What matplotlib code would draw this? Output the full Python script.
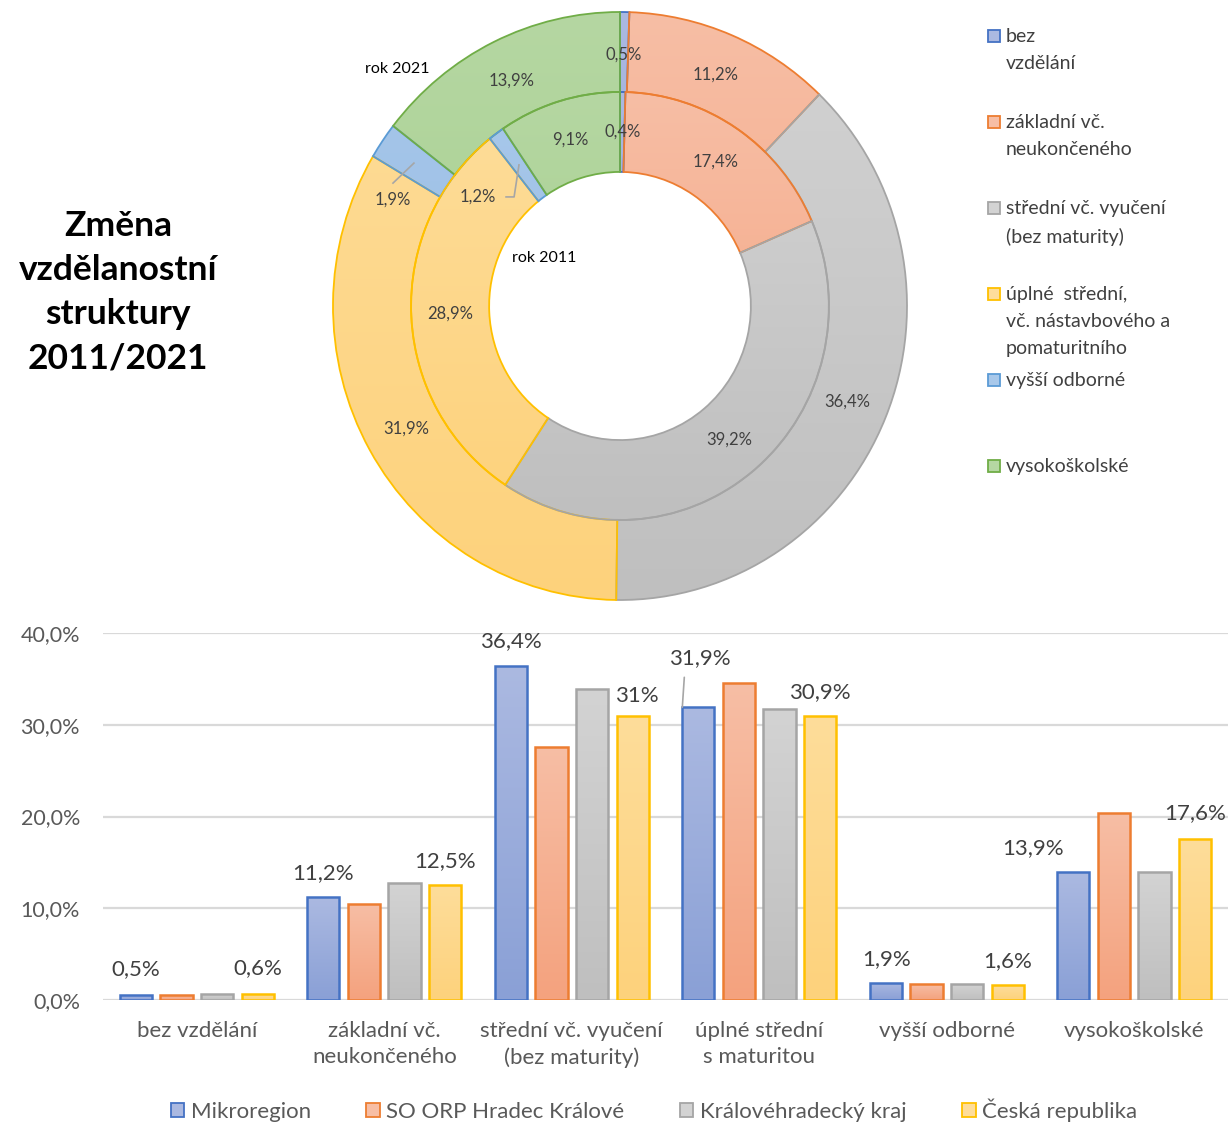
import numpy as np
import matplotlib
matplotlib.use("Agg")
import matplotlib.pyplot as plt
from matplotlib.colors import to_rgb
from matplotlib.patches import Rectangle

plt.rcParams['font.family'] = ['Lato', 'DejaVu Sans']

# ---------------- data ----------------
edu_categories = ["bez vzdělání", "základní vč. neukončeného", "střední vč. vyučení (bez maturity)",
                  "úplné střední, vč. nástavbového a pomaturitního", "vyšší odborné", "vysokoškolské"]
donut_legend_labels = ["bez\nvzdělání", "základní vč.\nneukončeného", "střední vč. vyučení\n(bez maturity)",
                       "úplné  střední,\nvč. nástavbového a\npomaturitního", "vyšší odborné", "vysokoškolské"]
share_2021 = [0.5, 11.2, 36.4, 31.9, 1.9, 13.9]
share_2011 = [0.4, 17.4, 39.2, 28.9, 1.2, 9.1]

bar_categories = ["bez vzdělání", "základní vč.\nneukončeného", "střední vč. vyučení\n(bez maturity)",
                  "úplné střední\ns maturitou", "vyšší odborné", "vysokoškolské"]
series_names = ["Mikroregion", "SO ORP Hradec Králové", "Královéhradecký kraj", "Česká republika"]
mikroregion = [0.5, 11.2, 36.4, 31.9, 1.9, 13.9]
so_orp_hk = [0.5, 10.5, 27.6, 34.5, 1.7, 20.4]
khk_kraj = [0.6, 12.7, 33.9, 31.7, 1.7, 13.9]
cesko = [0.6, 12.5, 31.0, 30.9, 1.6, 17.6]
mikro_labels = ["0,5%", "11,2%", "36,4%", "31,9%", "1,9%", "13,9%"]
cesko_labels = ["0,6%", "12,5%", "31%", "30,9%", "1,6%", "17,6%"]
yticks = [0, 10, 20, 30, 40]
ytick_labels = ["0,0%", "10,0%", "20,0%", "30,0%", "40,0%"]

# ---------------- styles ----------------
W, H = 1230, 1122
edge_cols = ["#4472C4", "#ED7D31", "#A5A5A5", "#FFC000", "#5B9BD5", "#70AD47"]
top_cols = ["#ABB9E1", "#F7BEA5", "#D3D3D3", "#FEDD9A", "#A8C8EA", "#B5D7A2"]
bot_cols = ["#8AA0D6", "#F4A27E", "#BFBFBF", "#FDD27C", "#93B8E3", "#A2CD88"]
bar_edge = edge_cols[:4]
bar_top = top_cols[:4]
bar_bot = bot_cols[:4]
txt_dark = "#404040"
txt_axis = "#595959"

fig = plt.figure(figsize=(W / 100, H / 100), dpi=100)


def px_axes(x0, y0, x1, y1, **kw):
    return fig.add_axes([x0 / W, 1 - y1 / H, (x1 - x0) / W, (y1 - y0) / H], **kw)


def gradient(ax, patch, top, bottom, extent, z):
    n = 128
    t = np.linspace(0, 1, n)[:, None]
    img = (1 - t) * np.array(to_rgb(top)) + t * np.array(to_rgb(bottom))
    im = ax.imshow(img[:, None, :], extent=extent, aspect='auto', origin='upper',
                   interpolation='bilinear', zorder=z)
    im.set_clip_path(patch)
    return im


# ---------------- donut ----------------
cx, cy, half = 620, 306, 310
axd = px_axes(cx - half, cy - half, cx + half, cy + half)
ring_w = 0.272
outer_wedges, _ = axd.pie(share_2021, radius=1.0, startangle=90, counterclock=False,
                          wedgeprops=dict(width=ring_w, linewidth=1.3), colors=top_cols)
inner_wedges, _ = axd.pie(share_2011, radius=1.0 - ring_w, startangle=90, counterclock=False,
                          wedgeprops=dict(width=ring_w, linewidth=1.3), colors=top_cols)
for wedges, r in ((outer_wedges, 1.0), (inner_wedges, 1.0 - ring_w)):
    for k, w in enumerate(wedges):
        w.set_facecolor('none')
        w.set_edgecolor(edge_cols[k])
        w.set_zorder(3)
        gradient(axd, w, top_cols[k], bot_cols[k], [-r, r, -r, r], 2)

sx, sy = 287.0, 294.0  # px per data unit
axd.set_aspect('auto')
axd.set_xlim(-half / sx, half / sx)
axd.set_ylim(-half / sy, half / sy)
axd.axis('off')

donut_fs = 12
overrides_outer = {4: (-0.791, 0.361)}
overrides_inner = {4: (-0.495, 0.371)}
for wedges, vals, rmid, ov in ((outer_wedges, share_2021, 0.855, overrides_outer),
                                (inner_wedges, share_2011, 0.592, overrides_inner)):
    for k, w in enumerate(wedges):
        mid = np.deg2rad((w.theta1 + w.theta2) / 2)
        x, y = rmid * np.cos(mid), rmid * np.sin(mid)
        if k in ov:
            x, y = ov[k]
        lbl = f"{vals[k]:.1f}".replace(".", ",") + "%"
        axd.text(x, y, lbl, ha='center', va='center', fontsize=donut_fs, color=txt_dark, zorder=5)

# leader lines for small slices
axd.plot([-0.718, -0.791], [0.486, 0.418], color="#A6A6A6", lw=1.2, zorder=4)
axd.plot([-0.352, -0.369, -0.397], [0.480, 0.371, 0.371], color="#A6A6A6", lw=1.2, zorder=4)
axd.text((397 - cx) / sx, (cy - 69) / sy, "rok 2021", ha='center', va='center',
         fontsize=11.5, color="#000000")
axd.text((544 - cx) / sx, (cy - 258) / sy, "rok 2011", ha='center', va='center',
         fontsize=11.5, color="#000000")

# ---------------- overlay (title + donut legend) ----------------
axo = fig.add_axes([0, 0, 1, 1], zorder=-1)
axo.set_xlim(0, W)
axo.set_ylim(H, 0)
axo.axis('off')
axo.text(118, 292, "Změna\nvzdělanostní\nstruktury\n2011/2021", ha='center', va='center',
         fontsize=25.5, fontweight='bold', color="#000000", linespacing=1.47)

leg_fs = 14
for k, lab in enumerate(donut_legend_labels):
    y0 = 36 + k * 86
    axo.add_patch(Rectangle((988, y0 - 6), 12, 12, facecolor=top_cols[k], edgecolor=edge_cols[k], lw=1.3))
    axo.text(1006, y0 - 8, lab, ha='left', va='top', fontsize=leg_fs, color=txt_dark, linespacing=1.72)

# ---------------- bar chart ----------------
axb = px_axes(103, 633, 1228, 1000)
x = np.arange(len(bar_categories))
step = 0.2169
bw = 0.172
series = [mikroregion, so_orp_hk, khk_kraj, cesko]
containers = []
for j, vals in enumerate(series):
    bars = axb.bar(x + (j - 1.5) * step, vals, width=bw, facecolor='none', edgecolor=bar_edge[j],
                   linewidth=1.8, zorder=3, label=series_names[j])
    containers.append(bars)
    for b in bars:
        gradient(axb, b, bar_top[j], bar_bot[j],
                 [b.get_x(), b.get_x() + b.get_width(), 0, b.get_height()], 2.5)

axb.set_xlim(-0.5, len(bar_categories) - 0.5)
axb.set_ylim(0, 40)
axb.set_yticks(yticks)
axb.set_yticklabels(ytick_labels)
axb.set_xticks(x)
axb.set_xticklabels(bar_categories, linespacing=1.4)
axb.tick_params(axis='y', length=0, pad=16.5, labelsize=15.5, labelcolor=txt_axis)
axb.tick_params(axis='x', length=0, pad=15, labelsize=16, labelcolor=txt_axis)
axb.grid(axis='y', color="#D9D9D9", lw=1.6, zorder=0)
axb.set_axisbelow(True)
for s in axb.spines.values():
    s.set_visible(False)
axb.axhline(0, color="#D9D9D9", lw=2.0, zorder=1)

label_fs = 16
mikro_off = [(0, 26), (0, 24), (0, 25), (2, 49), (1, 23), (-40, 24)]
cesko_off = [(0, 26), (0, 24), (4, 20), (0, 24), (0, 24), (0, 25)]
for bars, labs, offs in ((containers[0], mikro_labels, mikro_off), (containers[3], cesko_labels, cesko_off)):
    for b, lab, (dx, dy) in zip(bars, labs, offs):
        xc = b.get_x() + b.get_width() / 2
        axb.annotate(lab, (xc, b.get_height()), xytext=(dx, dy), textcoords='offset pixels',
                     ha='center', va='center', fontsize=label_fs, color=txt_dark, zorder=6,
                     annotation_clip=False)

# leader line for 31,9%
b = containers[0][3]
xc = b.get_x() + b.get_width() / 2
axb.annotate("", (xc - 0.085, b.get_height()), xytext=(2, 30), textcoords='offset pixels',
             arrowprops=dict(arrowstyle='-', color="#A6A6A6", lw=1.2, shrinkA=0, shrinkB=0),
             annotation_clip=False)

# bottom legend
handles = [Rectangle((0, 0), 1, 1, facecolor=bar_top[j], edgecolor=bar_edge[j], lw=1.3) for j in range(4)]
fig.legend(handles, series_names, loc='center', bbox_to_anchor=(654 / W, 1 - 1110 / H), ncol=4,
           frameon=False, fontsize=16, handlelength=0.6, handleheight=0.6, handletextpad=0.3,
           columnspacing=2.5, labelcolor=txt_axis)

fig.savefig("out.png", dpi=100)
